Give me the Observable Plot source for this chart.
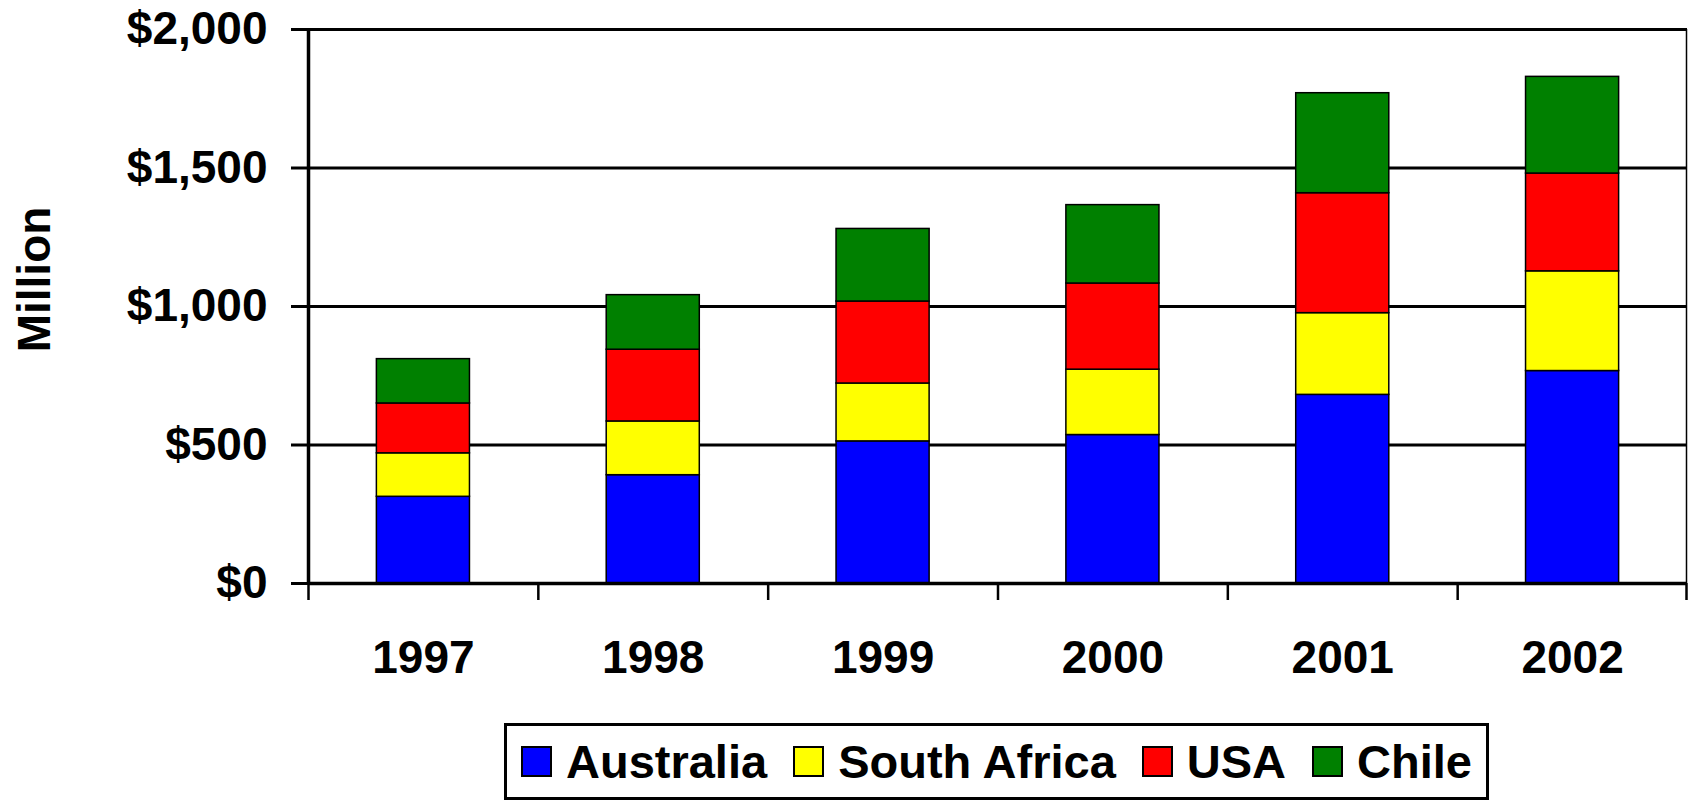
<!DOCTYPE html>
<html>
<head>
<meta charset="utf-8">
<script src="https://cdn.jsdelivr.net/npm/d3@7"></script>
<script src="https://cdn.jsdelivr.net/npm/@observablehq/plot@0.6"></script>
<style>
  html, body { margin: 0; padding: 0; background: #fff; }
  #wrap { position: relative; width: 1688px; height: 801px; font-family: "Liberation Sans", Arial, sans-serif; font-weight: bold; color: #000; }
  #legend { position: absolute; left: 504px; top: 723px; width: 985px; height: 77px; box-sizing: border-box; border: 3px solid #000; display: flex; align-items: center; padding-left: 14px; font-size: 47px; white-space: nowrap; }
  .item { display: flex; align-items: center; margin-right: 26px; white-space: nowrap; flex: none; }
  .sw { width: 31px; height: 31px; box-sizing: border-box; border: 2px solid #000; margin-right: 14px; flex: none; }
</style>
</head>
<body>
<div id="wrap"><div id="chart"></div><div id="legend"></div></div>
<script>
const years = ["1997", "1998", "1999", "2000", "2001", "2002"];
const countries = ["Australia", "South Africa", "USA", "Chile"];
const colors = ["#0000ff", "#ffff00", "#ff0000", "#008000"];
const australia = [313, 391, 513, 536, 681, 767];
const southAfrica = [157, 194, 209, 236, 295, 360];
const usa = [180, 259, 296, 311, 433, 353];
const chile = [160, 197, 262, 283, 361, 349];
const yTicks = [0, 500, 1000, 1500, 2000];

const series = [australia, southAfrica, usa, chile];
const data = years.flatMap((year, i) => countries.map((country, j) => ({year, country, value: series[j][i]})));

const W = 1688, H = 715, mL = 308, mR = 1, mT = 29, mB = 132;
const step = (W - mL - mR) / years.length;
const font = `"Liberation Sans", Arial, sans-serif`;

const chart = Plot.plot({
  width: W, height: H,
  marginLeft: mL, marginRight: mR, marginTop: mT, marginBottom: mB,
  style: {fontFamily: font, fontSize: "46px", fontWeight: "bold", color: "#000", background: "#fff"},
  x: {type: "band", domain: years, paddingInner: 0.595, paddingOuter: 0.2975, align: 0.5, round: false, axis: null},
  y: {domain: [0, 2000], nice: false, axis: null},
  color: {domain: countries, range: colors},
  marks: [
    Plot.ruleY(yTicks, {y: d => d, stroke: "#000", strokeWidth: 3}),
    Plot.barY(data, {x: "year", y: "value", fill: "country", stroke: "#000", strokeWidth: 1.5}),
    Plot.ruleY([0], {y: d => d, stroke: "#000", strokeWidth: 3.5}),
    Plot.ruleX([years[0]], {x: d => d, dx: -step / 2, y1: () => 0, y2: () => 2000, stroke: "#000", strokeWidth: 3.5}),
    Plot.ruleX([years[years.length - 1]], {x: d => d, dx: step / 2 - 1, y1: () => 0, y2: () => 2000, stroke: "#000", strokeWidth: 1.5}),
    Plot.ruleX(years, {x: d => d, dx: -step / 2, y1: () => 0, y2: () => 0, insetBottom: -17, stroke: "#000", strokeWidth: 2.5}),
    Plot.ruleX([years[years.length - 1]], {x: d => d, dx: step / 2 - 1, y1: () => 0, y2: () => 0, insetBottom: -17, stroke: "#000", strokeWidth: 2.5}),
    Plot.axisY({ticks: yTicks, tickSize: 17, tickPadding: 24, tickFormat: d3.format("$,"), strokeWidth: 3, label: null, fontSize: 46, fontWeight: "bold", fill: "#000", stroke: "#000"}),
    Plot.text(years, {x: d => d, y: () => 0, text: d => d, dy: 75, fontSize: 46, fontWeight: "bold", fill: "#000"}),
    Plot.text(["Million"], {frameAnchor: "left", textAnchor: "middle", text: d => d, rotate: -90, dx: -273, dy: -27, fontSize: 46, fontWeight: "bold", fill: "#000"})
  ]
});
document.getElementById("chart").appendChild(chart);

const legend = document.getElementById("legend");
countries.forEach((c, i) => {
  const item = document.createElement("div");
  item.className = "item";
  const sw = document.createElement("div");
  sw.className = "sw";
  sw.style.background = colors[i];
  const label = document.createElement("span");
  label.textContent = c;
  item.appendChild(sw);
  item.appendChild(label);
  legend.appendChild(item);
});
</script>
</body>
</html>
